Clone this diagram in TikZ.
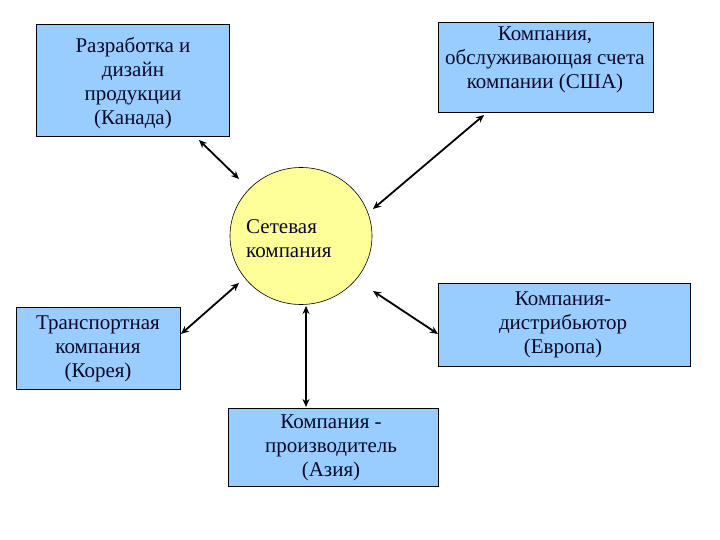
\documentclass[tikz,border=0pt]{standalone}
\usepackage{fontspec}
\setmainfont{Liberation Serif}
\usetikzlibrary{arrows.meta,shapes.geometric}
\definecolor{boxblue}{RGB}{153,204,255}
\definecolor{circyellow}{RGB}{255,255,153}
\definecolor{txt}{RGB}{10,10,40}
\tikzset{
  bluebox/.style={draw=black, line width=1pt, fill=boxblue, inner sep=0pt},
  lbl/.style={align=center, text=txt, font=\fontsize{21}{24}\selectfont, inner sep=0pt},
  link/.style={line width=1.8pt, {Stealth[length=8pt,width=7pt]}-{Stealth[length=8pt,width=7pt]}}
}
\begin{document}
\begin{tikzpicture}[x=1pt,y=-1pt]
\useasboundingbox (0,0) rectangle (720,540);
% boxes
\node[bluebox, minimum width=193pt, minimum height=112pt] (canada) at (132.5,81) {};
\node[lbl] (canadat) at (133,83) {Разработка и\\дизайн\\продукции\\(Канада)};
\node[bluebox, minimum width=215pt, minimum height=90pt] (usa) at (545.5,68) {};
\node[lbl] (usat) at (545,60) {Компания,\\обслуживающая счета\\компании (США)};
\node[bluebox, minimum width=164pt, minimum height=82pt] (korea) at (98,348) {};
\node[lbl] (koreat) at (98,349) {Транспортная\\компания\\(Корея)};
\node[bluebox, minimum width=252pt, minimum height=83pt] (europe) at (564,324.5) {};
\node[lbl] (europet) at (563,325) {Компания-\\дистрибьютор\\(Европа)};
\node[bluebox, minimum width=210pt, minimum height=78pt] (asia) at (333,447) {};
\node[lbl] (asiat) at (331,448) {Компания -\\производитель\\(Азия)};
% circle
\node[draw=black, line width=0.6pt, fill=circyellow, shape=ellipse, minimum width=142pt, minimum height=137pt, inner sep=0pt] (net) at (301,236) {};
\node[lbl, align=left, anchor=west] (nett) at (246,239) {Сетевая\\компания};
% connector end points
\coordinate (a1) at (199,140);
\coordinate (b1) at (239,179);
\coordinate (a2) at (484,115);
\coordinate (b2) at (373,209);
\coordinate (a3) at (373,291);
\coordinate (b3) at (438,334);
\coordinate (a4) at (239,283);
\coordinate (b4) at (181,334);
\coordinate (a5) at (306,306);
\coordinate (b5) at (306,407);
\draw[link] (a1) -- (b1);
\draw[link] (a2) -- (b2);
\draw[link] (a3) -- (b3);
\draw[link] (a4) -- (b4);
\draw[link] (a5) -- (b5);
\end{tikzpicture}
\end{document}
